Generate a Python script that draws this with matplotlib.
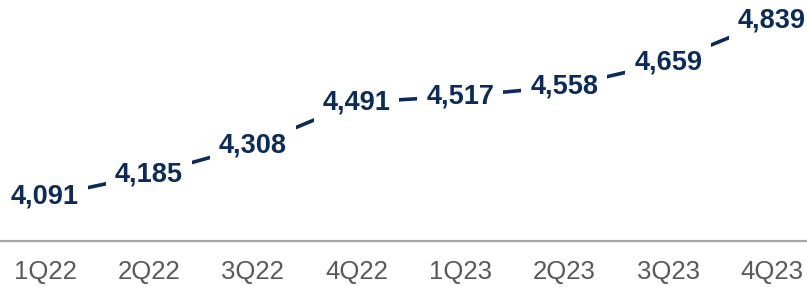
import matplotlib
matplotlib.use('Agg')
import matplotlib.pyplot as plt

quarters = ['1Q22', '2Q22', '3Q22', '4Q22', '1Q23', '2Q23', '3Q23', '4Q23']
values = [4091, 4185, 4308, 4491, 4517, 4558, 4659, 4839]

navy = '#0B2C5B'

plt.rcParams['font.family'] = ['Liberation Sans', 'DejaVu Sans']

fig = plt.figure(figsize=(8.07, 2.87), dpi=100)
ax = fig.add_axes([0, 46/287, 1, 241/287])

x = list(range(len(values)))
ax.plot(x, values, color=navy, lw=2.6, solid_capstyle='butt', zorder=1)

# value labels sit on the points, white box cuts the line
for i, v in enumerate(values):
    ax.text(i, v, '{:,}'.format(v), ha='center', va='center',
            fontsize=19.5, fontweight='bold', color=navy, zorder=3,
            bbox=dict(boxstyle='square,pad=0.33', fc='white', ec='none'))

ax.set_xlim(-0.433, 7.337)
ax.set_ylim(3904, 4924)
ax.set_xticks(x)
ax.set_xticklabels(quarters, fontsize=18.5, color='#595959')
ax.tick_params(axis='x', length=0, pad=14)
ax.set_yticks([])

for s in ['top', 'left', 'right']:
    ax.spines[s].set_visible(False)
ax.spines['bottom'].set_color('#A6A6A6')
ax.spines['bottom'].set_linewidth(1.6)

fig.savefig('out.png', dpi=100)
